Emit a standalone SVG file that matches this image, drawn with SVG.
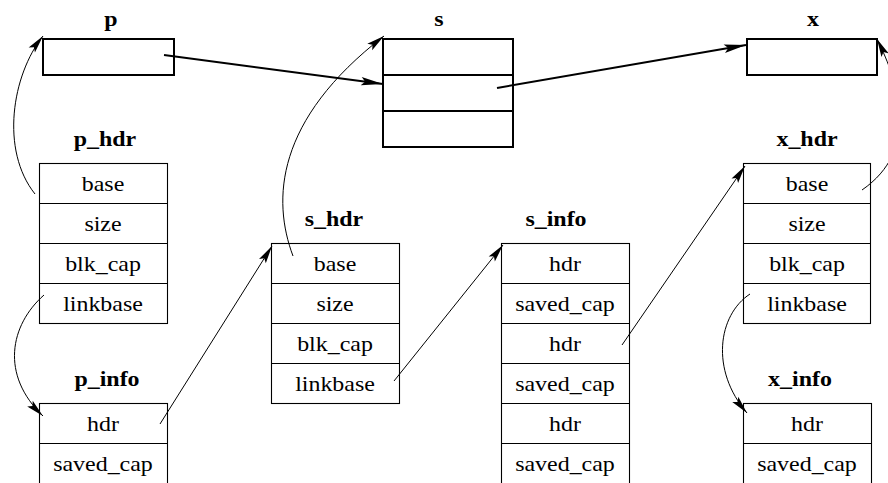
<svg xmlns="http://www.w3.org/2000/svg" width="888" height="483" viewBox="0 0 888 483">
<style>
.bg{fill:#fff}
.tk{fill:none;stroke:#000;stroke-width:2}
.tn{fill:none;stroke:#000;stroke-width:1.1}
.lbl{font-family:"Liberation Serif","Times New Roman",serif;font-weight:bold;font-size:21px;text-anchor:middle;fill:#000}
.c{font-family:"Liberation Serif","Times New Roman",serif;font-size:21px;text-anchor:middle;fill:#000}
.ak{fill:none;stroke:#000;stroke-width:2}
.an{fill:none;stroke:#000;stroke-width:1}
</style>
<defs>
<marker id="hk" markerUnits="userSpaceOnUse" viewBox="-23 -5 24 10" refX="0" refY="0" markerWidth="24" markerHeight="10" orient="auto">
<path d="M0,0 L-22,-4.2 L-18,0 L-22,4.2 z" fill="#000"/>
</marker>
<marker id="hn" markerUnits="userSpaceOnUse" viewBox="-19 -5 20 10" refX="0" refY="0" markerWidth="20" markerHeight="10" orient="auto">
<path d="M0,0 L-18,-4 L-14.5,0 L-18,4 z" fill="#000"/>
</marker>
</defs>
<rect class="bg" x="0" y="0" width="888" height="483"/>

<g id="p">
<text class="lbl" transform="translate(111,26) scale(1.14 1)">p</text>
<rect class="tk" x="43" y="39" width="131" height="36"/>
</g>

<g id="s">
<text class="lbl" transform="translate(439,26) scale(1.14 1)">s</text>
<rect class="tk" x="383" y="39" width="130" height="108"/>
<line class="tk" x1="383" y1="75" x2="513" y2="75"/>
<line class="tk" x1="383" y1="111" x2="513" y2="111"/>
</g>

<g id="x">
<text class="lbl" transform="translate(813,26) scale(1.14 1)">x</text>
<rect class="tk" x="747" y="39" width="130" height="36"/>
</g>

<g id="p_hdr">
<text class="lbl" transform="translate(105,146) scale(1.14 1)">p_hdr</text>
<rect class="tn" x="39.5" y="163.5" width="128" height="160"/>
<line class="tn" x1="39.5" y1="203.5" x2="167.5" y2="203.5"/>
<line class="tn" x1="39.5" y1="243.5" x2="167.5" y2="243.5"/>
<line class="tn" x1="39.5" y1="283.5" x2="167.5" y2="283.5"/>
<text class="c" transform="translate(103,191) scale(1.14 1)">base</text>
<text class="c" transform="translate(103,231) scale(1.14 1)">size</text>
<text class="c" transform="translate(103,271) scale(1.14 1)">blk_cap</text>
<text class="c" transform="translate(103,311) scale(1.14 1)">linkbase</text>
</g>

<g id="s_hdr">
<text class="lbl" transform="translate(334,226) scale(1.14 1)">s_hdr</text>
<rect class="tn" x="271.5" y="243.5" width="128" height="160"/>
<line class="tn" x1="271.5" y1="283.5" x2="399.5" y2="283.5"/>
<line class="tn" x1="271.5" y1="323.5" x2="399.5" y2="323.5"/>
<line class="tn" x1="271.5" y1="363.5" x2="399.5" y2="363.5"/>
<text class="c" transform="translate(335,271) scale(1.14 1)">base</text>
<text class="c" transform="translate(335,311) scale(1.14 1)">size</text>
<text class="c" transform="translate(335,351) scale(1.14 1)">blk_cap</text>
<text class="c" transform="translate(335,391) scale(1.14 1)">linkbase</text>
</g>

<g id="s_info">
<text class="lbl" transform="translate(556,226) scale(1.14 1)">s_info</text>
<rect class="tn" x="501.5" y="243.5" width="128" height="242"/>
<line class="tn" x1="501.5" y1="283.5" x2="629.5" y2="283.5"/>
<line class="tn" x1="501.5" y1="323.5" x2="629.5" y2="323.5"/>
<line class="tn" x1="501.5" y1="363.5" x2="629.5" y2="363.5"/>
<line class="tn" x1="501.5" y1="403.5" x2="629.5" y2="403.5"/>
<line class="tn" x1="501.5" y1="443.5" x2="629.5" y2="443.5"/>
<text class="c" transform="translate(565,271) scale(1.14 1)">hdr</text>
<text class="c" transform="translate(565,311) scale(1.14 1)">saved_cap</text>
<text class="c" transform="translate(565,351) scale(1.14 1)">hdr</text>
<text class="c" transform="translate(565,391) scale(1.14 1)">saved_cap</text>
<text class="c" transform="translate(565,431) scale(1.14 1)">hdr</text>
<text class="c" transform="translate(565,471) scale(1.14 1)">saved_cap</text>
</g>

<g id="x_hdr">
<text class="lbl" transform="translate(807,146) scale(1.14 1)">x_hdr</text>
<rect class="tn" x="743.5" y="163.5" width="127" height="160"/>
<line class="tn" x1="743.5" y1="203.5" x2="870.5" y2="203.5"/>
<line class="tn" x1="743.5" y1="243.5" x2="870.5" y2="243.5"/>
<line class="tn" x1="743.5" y1="283.5" x2="870.5" y2="283.5"/>
<text class="c" transform="translate(807,191) scale(1.14 1)">base</text>
<text class="c" transform="translate(807,231) scale(1.14 1)">size</text>
<text class="c" transform="translate(807,271) scale(1.14 1)">blk_cap</text>
<text class="c" transform="translate(807,311) scale(1.14 1)">linkbase</text>
</g>

<g id="p_info">
<text class="lbl" transform="translate(107,386) scale(1.14 1)">p_info</text>
<rect class="tn" x="39.5" y="403.5" width="128" height="82"/>
<line class="tn" x1="39.5" y1="443.5" x2="167.5" y2="443.5"/>
<text class="c" transform="translate(103,431) scale(1.14 1)">hdr</text>
<text class="c" transform="translate(103,471) scale(1.14 1)">saved_cap</text>
</g>

<g id="x_info">
<text class="lbl" transform="translate(800,386) scale(1.14 1)">x_info</text>
<rect class="tn" x="743.5" y="403.5" width="128" height="82"/>
<line class="tn" x1="743.5" y1="443.5" x2="871.5" y2="443.5"/>
<text class="c" transform="translate(807,431) scale(1.14 1)">hdr</text>
<text class="c" transform="translate(807,471) scale(1.14 1)">saved_cap</text>
</g>

<g id="connectors">
<path class="ak" d="M164,55 L383,84" marker-end="url(#hk)"/>
<path class="ak" d="M497,88 L746,45" marker-end="url(#hk)"/>
<path class="an" d="M35,194 C0,150 12,75 43,36" marker-end="url(#hn)"/>
<path class="an" d="M44,295 C10,325 0,375 43,416" marker-end="url(#hn)"/>
<path class="an" d="M160,424 L272,246" marker-end="url(#hn)"/>
<path class="an" d="M293,256 C272,200 275,120 384,36" marker-end="url(#hn)"/>
<path class="an" d="M394,381 L503,245" marker-end="url(#hn)"/>
<path class="an" d="M622,345 L745,166" marker-end="url(#hn)"/>
<path class="an" d="M862,190 C920,150 900,85 877,39" marker-end="url(#hn)"/>
<path class="an" d="M750,294 C718,315 710,370 747,413" marker-end="url(#hn)"/>
</g>
</svg>
